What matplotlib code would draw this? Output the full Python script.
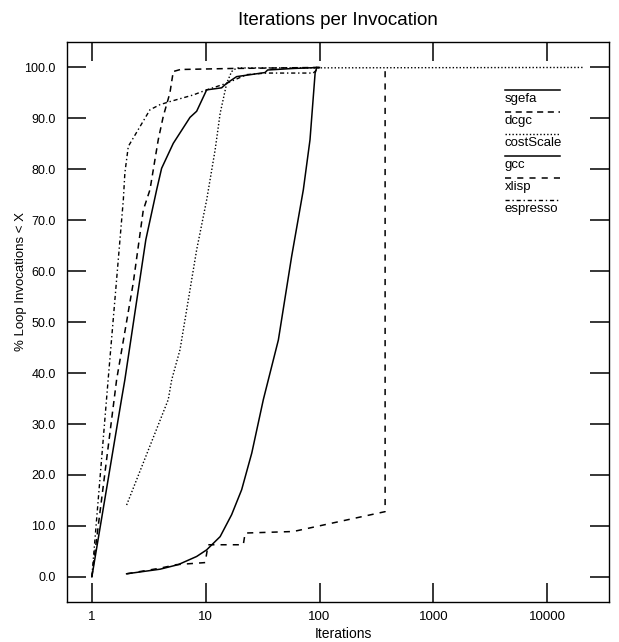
import numpy as np
import matplotlib
matplotlib.use('Agg')
import matplotlib.pyplot as plt
from matplotlib.ticker import FixedLocator, FixedFormatter

plt.rcParams['font.family'] = ['Liberation Sans', 'DejaVu Sans']

# curves (x = iterations, y = % loop invocations < X)
sgefa_x = [1.0, 1.82, 1.95, 2.98, 3.71, 4.1, 5.19, 7.28, 8.33, 10.2, 13.8, 15.3, 18.7, 33.2, 35.0, 58.6, 100.0]
sgefa_y = [0.0, 34.8, 38.7, 66.2, 76.0, 80.2, 85.1, 90.2, 91.4, 95.6, 96.0, 96.9, 98.2, 99.0, 99.5, 99.8, 100.0]

dcgc_x = [1.0, 1.65, 2.31, 2.83, 3.24, 3.83, 4.24, 4.85, 5.19, 6.0, 17.0, 100.0]
dcgc_y = [0.0, 38.7, 57.7, 72.0, 76.0, 85.8, 90.4, 95.0, 99.2, 99.6, 99.8, 100.0]

costscale_x = [2.02, 4.69, 5.03, 5.95, 7.04, 8.33, 10.2, 12.1, 13.4, 15.3, 16.9, 18.7, 20800.0]
costscale_y = [14.1, 34.8, 38.7, 44.6, 54.4, 64.2, 74.0, 83.8, 91.0, 96.9, 99.2, 99.9, 100.0]

gcc_x = [2.02, 3.97, 5.74, 8.33, 10.2, 13.4, 16.9, 20.7, 25.4, 32.1, 43.5, 56.9, 72.1, 82.5, 91.5, 94.6]
gcc_y = [0.6, 1.5, 2.4, 4.0, 5.3, 7.9, 12.2, 17.1, 24.3, 34.8, 46.5, 62.9, 76.0, 85.8, 98.9, 100.0]

xlisp_x = [2.02, 3.97, 5.56, 9.9, 10.5, 21.4, 22.2, 58.9, 377.0, 377.0]
xlisp_y = [0.6, 1.7, 2.4, 2.8, 6.3, 6.3, 8.6, 8.9, 12.8, 100.0]

espresso_x = [1.0, 1.39, 1.89, 1.95, 2.09, 3.24, 3.97, 4.85, 7.77, 10.2, 15.3, 23.0, 34.4, 88.0, 100.0]
espresso_y = [0.0, 38.7, 74.0, 79.3, 84.5, 91.7, 92.7, 93.3, 94.6, 95.6, 96.9, 98.6, 98.9, 98.9, 100.0]

names = ['sgefa', 'dcgc', 'costScale', 'gcc', 'xlisp', 'espresso']
xticks = [1, 10, 100, 1000, 10000]
yticks = [0, 10, 20, 30, 40, 50, 60, 70, 80, 90, 100]

series = [(sgefa_x, sgefa_y), (dcgc_x, dcgc_y), (costscale_x, costscale_y),
          (gcc_x, gcc_y), (xlisp_x, xlisp_y), (espresso_x, espresso_y)]
styles = [dict(ls='-', lw=1.1),
          dict(ls=(0, (4, 3)), lw=1.1),
          dict(ls=(0, (1, 1.5)), lw=1.0),
          dict(ls='-', lw=1.1),
          dict(ls=(0, (4, 4)), lw=1.1),
          dict(ls=(0, (3, 2, 1, 2)), lw=1.0)]

fig = plt.figure(figsize=(6.19, 6.42), dpi=100)
ax = fig.add_axes([0.108, 0.063, 0.876, 0.872])

for (xs, ys), st in zip(series, styles):
    ax.plot(xs, ys, color='black', **st)

ax.set_xscale('log')
ax.set_xlim(0.603, 35000)
ax.set_ylim(-4.85, 105.05)

ax.xaxis.set_major_locator(FixedLocator(xticks))
ax.xaxis.set_major_formatter(FixedFormatter([str(t) for t in xticks]))
ax.xaxis.set_minor_locator(FixedLocator([]))
ax.yaxis.set_major_locator(FixedLocator(yticks))
ax.yaxis.set_major_formatter(FixedFormatter(['%.1f' % t for t in yticks]))
ax.tick_params(which='major', direction='in', length=14, width=1.1,
               top=True, right=True, labelsize=9.5, pad=7)
ax.tick_params(axis='y', labelsize=9, pad=8)
for s in ax.spines.values():
    s.set_linewidth(1.0)

ax.set_title('Iterations per Invocation', fontsize=13.5, pad=12)
ax.set_xlabel('Iterations', fontsize=10, labelpad=1)
ax.set_ylabel('% Loop Invocations < X', fontsize=9.5)
ax.yaxis.set_label_coords(-0.074, 0.571)
ax.xaxis.set_label_coords(0.51, -0.045)

# legend: line sample over each name
for i, (name, st) in enumerate(zip(names, styles)):
    yl = 0.913 - i * 0.0392
    ax.plot([0.808, 0.91], [yl, yl], color='black', transform=ax.transAxes, **st)
    ax.text(0.808, yl - 0.015, name, transform=ax.transAxes, fontsize=9.5,
            va='center', ha='left')

fig.savefig('out.png', dpi=100)
